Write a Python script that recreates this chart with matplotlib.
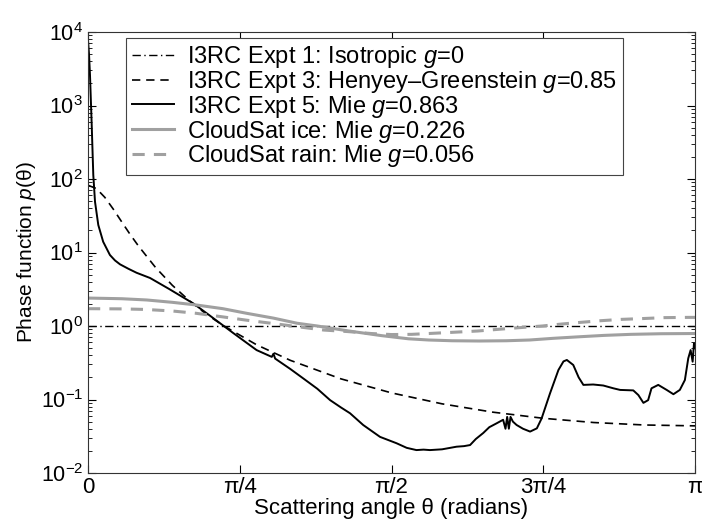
import numpy as np
import matplotlib
matplotlib.use("Agg")
import matplotlib.pyplot as plt

# Values (angles in degrees)
ISO_DEG = [0, 180]
ISO_P = [1.0, 1.0]

HG_DEG = [0, 2.5, 5, 7.5, 10, 12.5, 15, 20, 25, 30, 35, 40, 50, 60, 75, 90,
          105, 120, 135, 150, 165, 180]
HG_P = [82.2, 74.1, 56.2, 38.9, 26.1, 17.6, 12.2, 6.28, 3.58, 2.22, 1.46, 1.02,
        0.555, 0.341, 0.191, 0.123, 0.0873, 0.0673, 0.0555, 0.0486, 0.045, 0.0438]

MIE_DEG = [0, 0.3, 0.59, 1.1, 1.57, 2.08, 3.05, 4.5, 6.5, 8, 9.5, 12, 14.4, 18.4, 24,
           31.2, 36, 43.1, 50, 54.5, 55, 55.5, 60, 63.8, 68, 71.8, 75, 77.7,
           81.6, 86.6, 91.5, 94.5, 97.4, 99.5, 101.4, 105, 109.3, 111.5, 113.3,
           115, 117.2, 119, 121.2, 123.1, 123.8, 124.3, 124.8, 125.3, 126,
           127.1, 129, 131.1, 133.1, 134.5, 137, 139.5, 141, 142, 143.9, 145.5,
           146.9, 149.8, 152.8, 155.8, 157.8, 161.7, 163.2, 164.7, 166.1, 167.1,
           169.1, 171.6, 173.6, 175.5, 177, 178, 178.7, 179.3, 179.7, 180]
MIE_P = [7800, 5000, 2600, 543, 113, 49, 23.7, 14, 9.25, 7.8, 6.9, 6.0, 5.3, 4.5, 3.2,
         2.03, 1.4, 0.8, 0.47, 0.38, 0.42, 0.36, 0.26, 0.194, 0.14, 0.098, 0.078,
         0.065, 0.045, 0.031, 0.0254, 0.022, 0.0205, 0.0208, 0.0205, 0.021,
         0.0228, 0.0232, 0.024, 0.029, 0.035, 0.042, 0.0475, 0.053, 0.04, 0.058,
         0.04, 0.058, 0.05, 0.045, 0.04, 0.0366, 0.0405, 0.055, 0.121, 0.252,
         0.33, 0.345, 0.295, 0.2, 0.158, 0.16, 0.155, 0.142, 0.135, 0.133, 0.115,
         0.09, 0.098, 0.142, 0.158, 0.135, 0.118, 0.135, 0.184, 0.363, 0.47,
         0.327, 0.58, 0.5]

ICE_DEG = [0, 10, 17.4, 25, 32.2, 40, 47, 55, 62, 68, 77, 87, 95, 101, 108,
           116, 124, 131, 138, 146, 153, 161, 170, 180]
ICE_P = [2.4, 2.35, 2.26, 2.1, 1.93, 1.72, 1.49, 1.28, 1.09, 1.0, 0.86, 0.74,
         0.67, 0.645, 0.63, 0.625, 0.63, 0.645, 0.68, 0.715, 0.745, 0.77,
         0.785, 0.79]

RAIN_DEG = [0, 10, 17, 25, 32, 40, 47, 55, 62, 70, 77, 84, 90, 96, 101, 108,
            115.6, 121.5, 128, 134.7, 140.6, 146, 152, 158, 164, 171, 178, 180]
RAIN_P = [1.72, 1.71, 1.68, 1.6, 1.49, 1.33, 1.2, 1.08, 0.98, 0.88, 0.84, 0.79,
          0.765, 0.77, 0.79, 0.82, 0.855, 0.9, 0.95, 1.0, 1.065, 1.12, 1.18,
          1.23, 1.26, 1.3, 1.31, 1.31]

LABELS = ['I3RC Expt 1: Isotropic $g$=0',
          'I3RC Expt 3: Henyey\u2013Greenstein $g$=0.85',
          'I3RC Expt 5: Mie $g$=0.863',
          'CloudSat ice: Mie $g$=0.226',
          'CloudSat rain: Mie $g$=0.056']
XTICK_LABELS = ['0', '\u03c0/4', '\u03c0/2', '3\u03c0/4', '\u03c0']
YTICKS = [1e-2, 1e-1, 1e0, 1e1, 1e2, 1e3, 1e4]

plt.rcParams['font.family'] = ['Liberation Sans', 'DejaVu Sans']
plt.rcParams['mathtext.fontset'] = 'custom'
plt.rcParams['mathtext.rm'] = 'Liberation Sans'
plt.rcParams['mathtext.it'] = 'Liberation Sans:italic'

fig = plt.figure(figsize=(7.02, 5.25), dpi=100)
ax = fig.add_axes([88 / 702, 52 / 525, 607 / 702, 441 / 525])

ax.plot(np.deg2rad(ISO_DEG), ISO_P, color='black', lw=1.0, linestyle=(0, (6, 2.5, 1, 2.5)), label=LABELS[0])
ax.plot(np.deg2rad(HG_DEG), HG_P, color='black', lw=1.2, linestyle=(0, (5, 3.5)), label=LABELS[1])
ax.plot(np.deg2rad(MIE_DEG), MIE_P, color='black', lw=1.4, label=LABELS[2])
ax.plot(np.deg2rad(ICE_DEG), ICE_P, color='#a0a0a0', lw=2.2, label=LABELS[3])
ax.plot(np.deg2rad(RAIN_DEG), RAIN_P, color='#a0a0a0', lw=2.2, linestyle=(0, (4, 3)), label=LABELS[4])

ax.set_yscale('log')
ax.set_xlim(0, np.pi)
ax.set_ylim(1e-2, 1e4)
ax.set_yticks(YTICKS)
ax.set_xticks(np.arange(5) * np.pi / 4)
ax.set_xticklabels(XTICK_LABELS)
ax.tick_params(which='both', direction='in', top=True, right=True)
ax.tick_params(axis='x', labelsize=16, pad=3)
ax.tick_params(axis='y', labelsize=15.5)
ax.tick_params(which='major', length=6, width=0.8)
ax.tick_params(which='minor', length=3, width=0.6)
ax.tick_params(axis='y', which='minor', labelleft=False)
for s in ax.spines.values():
    s.set_linewidth(0.8)
    s.set_color('#333333')

ax.set_xlabel('Scattering angle \u03b8 (radians)', fontsize=16, labelpad=0)
ax.set_ylabel('Phase function $p$(\u03b8)', fontsize=15, labelpad=2)

leg = ax.legend(loc='upper left', bbox_to_anchor=(0.0626, 0.986), borderaxespad=0,
                fontsize=17, fancybox=False, framealpha=1, edgecolor='#444444',
                handlelength=1.8, handletextpad=0.55, labelspacing=-0.05,
                borderpad=0.25)
leg.get_frame().set_linewidth(0.8)

fig.savefig('out.png', dpi=100)
